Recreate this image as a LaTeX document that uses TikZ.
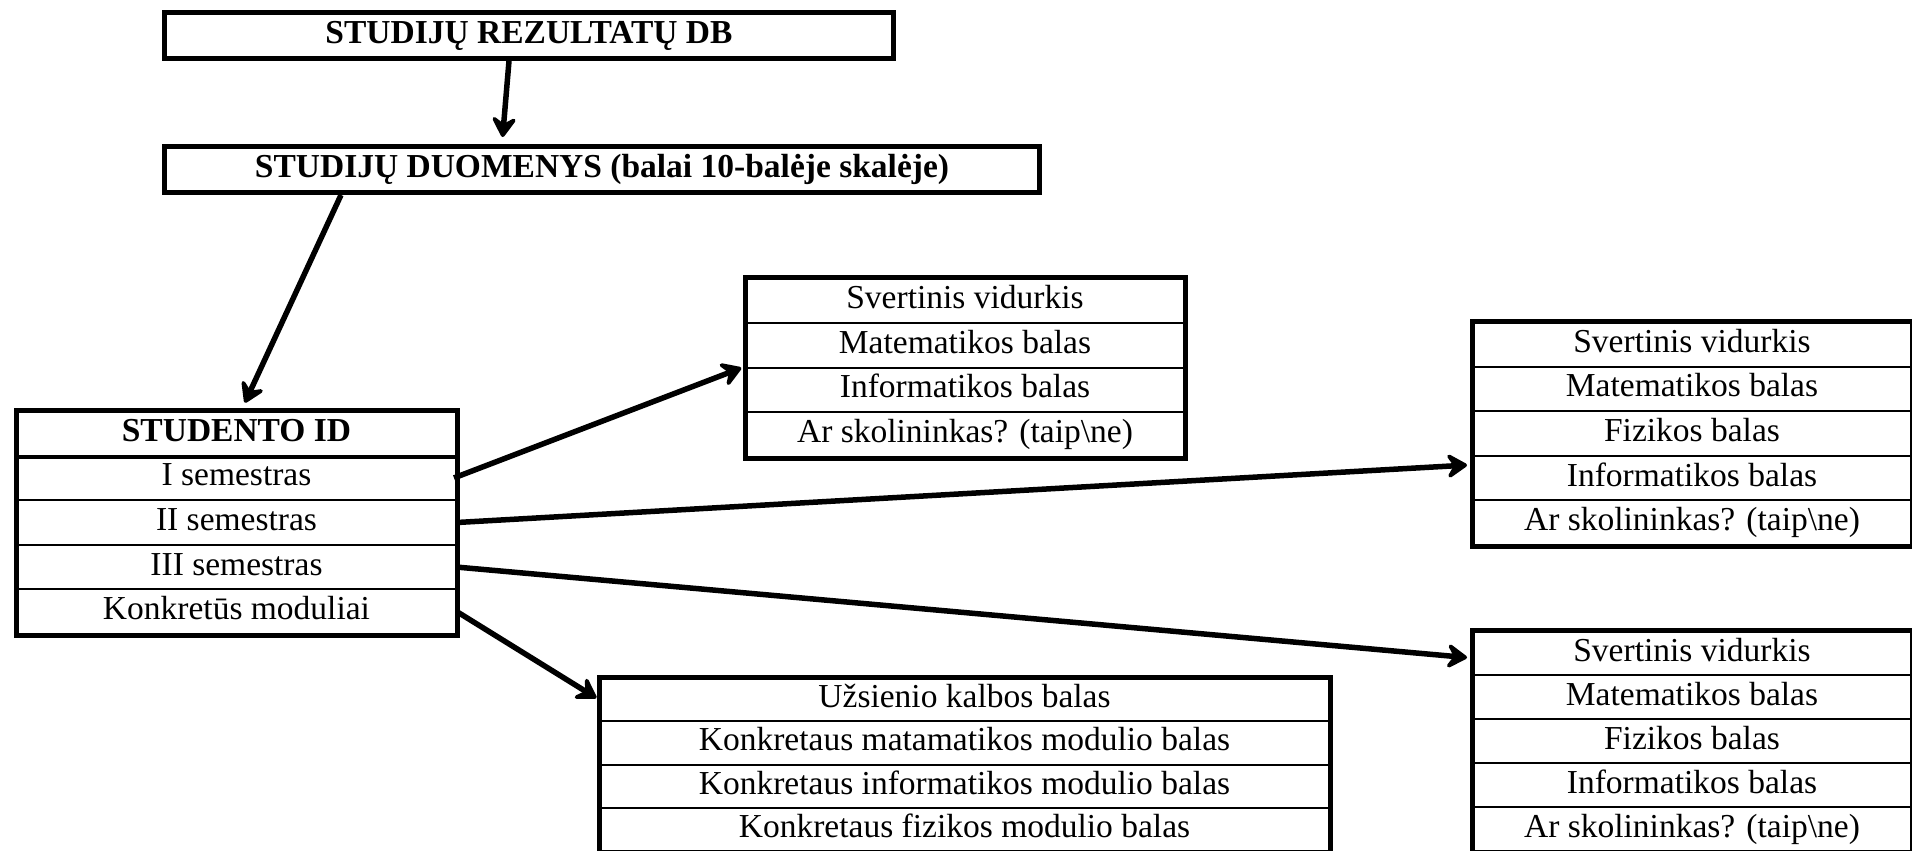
\documentclass[tikz,border=0pt]{standalone}
\usepackage{fontspec}
\setmainfont{Liberation Serif}
\usetikzlibrary{arrows.meta}
\begin{document}
\begin{tikzpicture}[x=1pt,y=-1pt,
  txt/.style={font=\fontsize{33.5}{38}\selectfont, text height=23pt, text depth=7pt},
  cell/.style={txt, draw, line width=2pt, inner sep=0pt, anchor=north west},
  titlebox/.style={txt, font=\fontsize{33.5}{38}\selectfont\bfseries, draw, line width=5pt, inner sep=0pt, anchor=north west},
  frame/.style={line width=5pt},
  link/.style={line width=5.5pt, -{Stealth[length=25pt,width=31pt,inset=10pt,round]}}
]
\useasboundingbox (0,0) rectangle (1912,851);

% database and data headers
\node[titlebox, minimum width=729pt, minimum height=46pt] (db) at (162,10) {STUDIJŲ REZULTATŲ DB};
\node[titlebox, minimum width=875pt, minimum height=46pt] (data) at (162,144) {STUDIJŲ DUOMENYS (balai 10-balėje skalėje)};

% student table
\node[cell, font=\fontsize{33.5}{38}\selectfont\bfseries, minimum width=439pt, minimum height=44.6pt] (sid) at (16,410) {STUDENTO ID};
\foreach \t [count=\i] in {I semestras, II semestras, III semestras, Konkretūs moduliai}
  \node[cell, minimum width=439pt, minimum height=44.6pt] (s\i) at (16,{410+44.6*\i}) {\t};
\draw[line width=4pt] (sid.south west) -- (sid.south east);
\draw[frame] (sid.north west) rectangle (s4.south east);

% first semester
\foreach \t [count=\i] in {Svertinis vidurkis, Matematikos balas, Informatikos balas, Ar skolininkas? (taip\textbackslash ne)}
  \node[cell, minimum width=438pt, minimum height=44.75pt] (a\i) at (745,{277+44.75*(\i-1)}) {\t};
\draw[frame] (a1.north west) rectangle (a4.south east);

% second semester
\foreach \t [count=\i] in {Svertinis vidurkis, Matematikos balas, Fizikos balas, Informatikos balas, Ar skolininkas? (taip\textbackslash ne)}
  \node[cell, minimum width=438pt, minimum height=44.6pt] (b\i) at (1472,{321+44.6*(\i-1)}) {\t};
\draw[frame] (b1.north west) rectangle (b5.south east);

% third semester
\foreach \t [count=\i] in {Svertinis vidurkis, Matematikos balas, Fizikos balas, Informatikos balas, Ar skolininkas? (taip\textbackslash ne)}
  \node[cell, minimum width=438pt, minimum height=44pt] (c\i) at (1472,{630+44*(\i-1)}) {\t};
\draw[frame] (c1.north west) rectangle (c5.south east);

% specific modules
\foreach \t [count=\i] in {Užsienio kalbos balas, Konkretaus matamatikos modulio balas, Konkretaus informatikos modulio balas, Konkretaus fizikos modulio balas}
  \node[cell, minimum width=729pt, minimum height=43.25pt] (d\i) at (599,{677+43.25*(\i-1)}) {\t};
\draw[frame] (d1.north west) rectangle (d4.south east);

% connectors
\draw[link, shorten >=7pt] ([xshift=-20pt]db.south) -- ([xshift=-100pt]data.north);
\draw[link, shorten >=8pt] ([xshift=179pt]data.south west) -- ([xshift=5pt]sid.north);
\draw[link, shorten >=4pt] ([xshift=-3pt]s1.east) -- (a3.north west);
\draw[link, shorten >=5pt] (s2.east) -- ([yshift=-10pt]b4.north west);
\draw[link, shorten >=5pt] (s3.east) -- ([yshift=-5pt]c1.west);
\draw[link, shorten >=3pt] (s4.east) -- (d1.west);
\end{tikzpicture}
\end{document}
